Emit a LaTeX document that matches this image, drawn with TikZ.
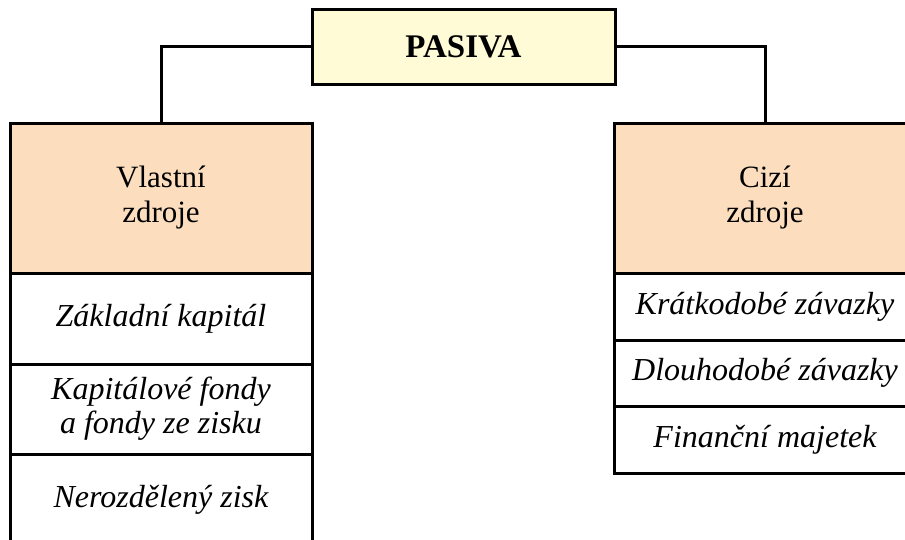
\documentclass[tikz,border=0pt]{standalone}
\usepackage{fontspec}
\setmainfont{Liberation Serif}
\definecolor{peach}{RGB}{252,222,191}
\definecolor{cream}{RGB}{255,251,214}
\begin{document}
\begin{tikzpicture}[x=1pt,y=-1pt,
  box/.style={draw=black, line width=3pt, rectangle, inner sep=0pt, outer sep=0pt,
    minimum width=302pt, align=center, font=\fontsize{31}{35}\selectfont},
  head/.style={box, fill=peach, minimum height=150pt},
  item/.style={box, fill=white, font=\fontsize{32}{34}\selectfont\itshape},
  topbox/.style={box, fill=cream, minimum width=303pt, minimum height=75pt,
    font=\fontsize{33}{35}\selectfont\bfseries},
  link/.style={draw=black, line width=3pt}]
\useasboundingbox (0,0) rectangle (905,539);
\clip (0,0) rectangle (905,539);
\node[topbox] (pasiva) at (463.5,46.5) {PASIVA};
\node[head] (vl) at (161,198) {Vlastní\\zdroje};
\node[item, minimum height=91pt] (zk) at (161,318.5) {Základní kapitál};
\node[item, minimum height=90pt] (kf) at (161,409) {Kapitálové fondy\\a fondy ze zisku};
\node[item, minimum height=91pt] (nz) at (161,499.5) {Nerozdělený zisk};
\node[head] (ci) at (765,198) {Cizí\\zdroje};
\node[item, minimum height=67pt] (kr) at (765,306.5) {Krátkodobé závazky};
\node[item, minimum height=66pt] (dl) at (765,373) {Dlouhodobé závazky};
\node[item, minimum height=67pt] (fm) at (765,439.5) {Finanční majetek};
\draw[link] (pasiva.west) -| (vl.north);
\draw[link] (pasiva.east) -| (ci.north);
\end{tikzpicture}
\end{document}
